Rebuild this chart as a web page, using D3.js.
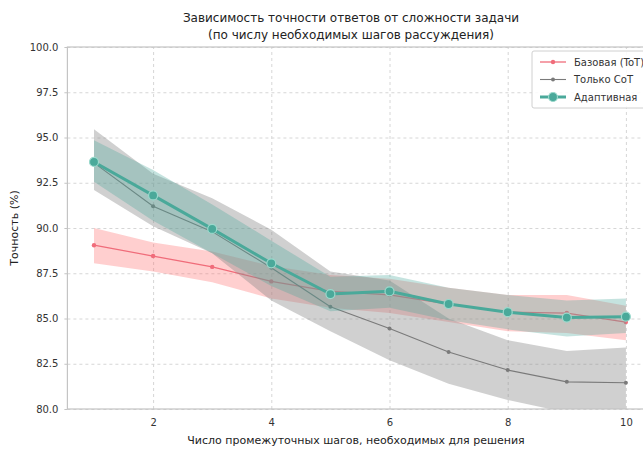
<!DOCTYPE html>
<html>
<head>
<meta charset="utf-8">
<script src="https://cdn.jsdelivr.net/npm/d3@7.9.0/dist/d3.min.js"></script>
<style>
  body { margin: 0; background: #fff; }
  text { font-family: "DejaVu Sans", sans-serif; }
</style>
</head>
<body>
<div id="chart"></div>
<script>
// steps needed for the task
const steps = [1, 2, 3, 4, 5, 6, 7, 8, 9, 10];

// Базовая (ToT)
const baseMean = [89.05, 88.45, 87.85, 87.05, 86.5, 86.3, 85.8, 85.35, 85.3, 84.8];
const baseLow  = [88.05, 87.6, 87.0, 86.1, 85.6, 85.3, 84.8, 84.3, 84.2, 83.8];
const baseHigh = [90.0, 89.2, 88.7, 87.9, 87.4, 87.2, 86.7, 86.3, 86.3, 85.7];

// Только CoT
const cotMean = [93.6, 91.2, 89.8, 87.8, 85.65, 84.45, 83.15, 82.15, 81.5, 81.45];
const cotLow  = [92.1, 90.1, 88.6, 86.0, 84.3, 82.7, 81.4, 80.5, 79.8, 79.5];
const cotHigh = [95.45, 93.0, 91.65, 89.9, 87.6, 87.1, 85.0, 83.8, 83.2, 83.4];

// Адаптивная
const adaMean = [93.65, 91.8, 89.95, 88.05, 86.35, 86.5, 85.8, 85.35, 85.05, 85.1];
const adaLow  = [92.55, 90.4, 88.6, 86.8, 85.4, 85.6, 84.9, 84.4, 84.0, 84.2];
const adaHigh = [94.85, 93.2, 91.3, 89.3, 87.3, 87.4, 86.7, 86.3, 86.0, 86.1];

const yTicks = [80, 82.5, 85, 87.5, 90, 92.5, 95, 97.5, 100];
const xTicks = [2, 4, 6, 8, 10];

const width = 643, height = 450;
const plot = { left: 67.4, right: 652.5, top: 47, bottom: 409 };

const svg = d3.select('#chart').append('svg')
  .attr('width', width)
  .attr('height', height);

const x = d3.scaleLinear().domain([0.55, 10.45]).range([plot.left, plot.right]);
const y = d3.scaleLinear().domain([80, 100]).range([plot.bottom, plot.top]);

svg.append('defs').append('clipPath').attr('id', 'clip')
  .append('rect')
  .attr('x', plot.left).attr('y', plot.top)
  .attr('width', plot.right - plot.left).attr('height', plot.bottom - plot.top);

// gridlines
svg.append('g')
  .attr('transform', `translate(${plot.left},0)`)
  .call(d3.axisLeft(y).tickValues(yTicks).tickFormat('').tickSize(-(plot.right - plot.left)))
  .call(g => g.select('.domain').remove())
  .selectAll('line')
  .attr('stroke', '#d6d6d6')
  .attr('stroke-dasharray', '3,3');

svg.append('g')
  .attr('transform', `translate(0,${plot.bottom})`)
  .call(d3.axisBottom(x).tickValues(xTicks).tickFormat('').tickSize(-(plot.bottom - plot.top)))
  .call(g => g.select('.domain').remove())
  .selectAll('line')
  .attr('stroke', '#d6d6d6')
  .attr('stroke-dasharray', '3,3');

const series = [
  { name: 'Базовая (ToT)', mean: baseMean, low: baseLow, high: baseHigh,
    color: '#f06c7a', band: '#ff6b6b', bandOp: 0.32, lw: 1.3, r: 2.2, stroke: 'none' },
  { name: 'Только CoT', mean: cotMean, low: cotLow, high: cotHigh,
    color: '#7a7a7a', band: '#8a8a8a', bandOp: 0.4, lw: 1.1, r: 2, stroke: 'none' },
  { name: 'Адаптивная', mean: adaMean, low: adaLow, high: adaHigh,
    color: '#4aa99a', band: '#4aa99a', bandOp: 0.32, lw: 3, r: 4.5, stroke: '#9ad9cc' },
];

const area = d3.area()
  .x((d, i) => x(steps[i]))
  .y0(d => y(d[0]))
  .y1(d => y(d[1]));

const line = d3.line()
  .x((d, i) => x(steps[i]))
  .y(d => y(d));

const plotG = svg.append('g').attr('clip-path', 'url(#clip)');

series.forEach(s => {
  plotG.append('path')
    .datum(s.low.map((v, i) => [v, s.high[i]]))
    .attr('d', area)
    .attr('fill', s.band)
    .attr('fill-opacity', s.bandOp);

  plotG.append('path')
    .datum(s.mean)
    .attr('d', line)
    .attr('fill', 'none')
    .attr('stroke', s.color)
    .attr('stroke-width', s.lw);

  plotG.selectAll(null)
    .data(s.mean)
    .join('circle')
    .attr('cx', (d, i) => x(steps[i]))
    .attr('cy', d => y(d))
    .attr('r', s.r)
    .attr('fill', s.color)
    .attr('stroke', s.stroke)
    .attr('stroke-width', 1.2);
});

// frame
svg.append('rect')
  .attr('x', plot.left).attr('y', plot.top)
  .attr('width', plot.right - plot.left).attr('height', plot.bottom - plot.top)
  .attr('fill', 'none')
  .attr('stroke', '#c4c4c4')
  .attr('stroke-width', 1.2);

// y axis
const yAxis = svg.append('g')
  .attr('transform', `translate(${plot.left},0)`)
  .call(d3.axisLeft(y).tickValues(yTicks).tickFormat(d3.format('.1f')).tickSize(3).tickPadding(6));
yAxis.select('.domain').remove();
yAxis.selectAll('line').attr('stroke', '#c4c4c4');
yAxis.selectAll('text').attr('fill', '#333').style('font-size', '10px');

// x axis
const xAxis = svg.append('g')
  .attr('transform', `translate(0,${plot.bottom})`)
  .call(d3.axisBottom(x).tickValues(xTicks).tickSize(0).tickPadding(10));
xAxis.select('.domain').remove();
xAxis.selectAll('text').attr('fill', '#333').style('font-size', '10px');

// titles
const title = svg.append('text')
  .attr('x', 351).attr('text-anchor', 'middle')
  .attr('fill', '#222').style('font-size', '12px');
title.append('tspan').attr('x', 351).attr('y', 22).text('Зависимость точности ответов от сложности задачи');
title.append('tspan').attr('x', 351).attr('y', 39).text('(по числу необходимых шагов рассуждения)');

svg.append('text')
  .attr('x', 356).attr('y', 444)
  .attr('text-anchor', 'middle')
  .attr('fill', '#222').style('font-size', '11px')
  .text('Число промежуточных шагов, необходимых для решения');

svg.append('text')
  .attr('transform', `translate(18,${(plot.top + plot.bottom) / 2}) rotate(-90)`)
  .attr('text-anchor', 'middle')
  .attr('fill', '#222').style('font-size', '11px')
  .text('Точность (%)');

// legend
const legend = svg.append('g').attr('transform', 'translate(532,51)');
legend.append('rect')
  .attr('width', 120).attr('height', 57).attr('rx', 2)
  .attr('fill', '#fff').attr('fill-opacity', 0.85)
  .attr('stroke', '#d0d0d0');

series.forEach((s, i) => {
  const row = legend.append('g').attr('transform', `translate(8,${11 + i * 17.5})`);
  row.append('line')
    .attr('x1', 0).attr('x2', 26)
    .attr('stroke', s.color).attr('stroke-width', s.lw);
  row.append('circle')
    .attr('cx', 13).attr('r', s.r)
    .attr('fill', s.color).attr('stroke', s.stroke).attr('stroke-width', 1.2);
  row.append('text')
    .attr('x', 34).attr('dy', '0.35em')
    .attr('fill', '#333').style('font-size', '10px')
    .text(s.name);
});
</script>
</body>
</html>
